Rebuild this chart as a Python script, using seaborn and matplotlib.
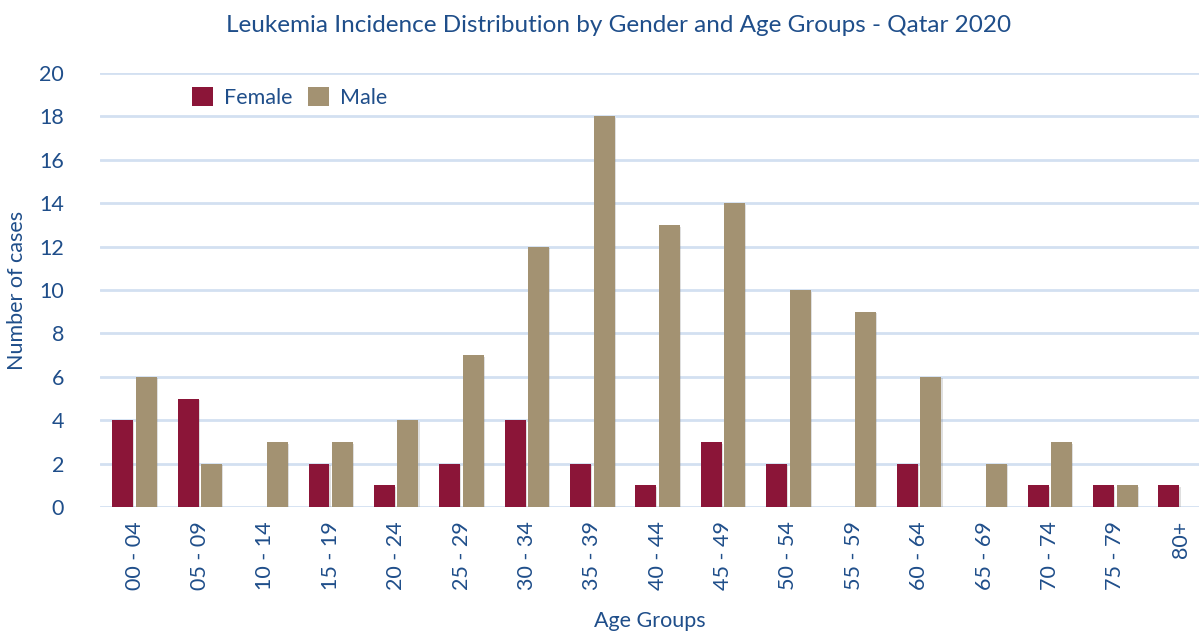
import matplotlib
matplotlib.use("Agg")
import matplotlib.pyplot as plt
import matplotlib.patheffects as pe
import seaborn as sns
import pandas as pd

age_groups = ["00 - 04", "05 - 09", "10 - 14", "15 - 19", "20 - 24", "25 - 29", "30 - 34",
              "35 - 39", "40 - 44", "45 - 49", "50 - 54", "55 - 59", "60 - 64", "65 - 69",
              "70 - 74", "75 - 79", "80+"]
female = [4, 5, 0, 2, 1, 2, 4, 2, 1, 3, 2, 0, 2, 0, 1, 1, 1]
male = [6, 2, 3, 3, 4, 7, 12, 18, 13, 14, 10, 9, 6, 2, 3, 1, 0]

df = pd.DataFrame({
    "Age": age_groups * 2,
    "Cases": female + male,
    "Gender": ["Female"] * len(female) + ["Male"] * len(male),
})

sns.set_theme(style="white")
plt.rcParams["font.family"] = ["Lato", "DejaVu Sans"]
text_color = "#1F4E8A"

fig = plt.figure(figsize=(11.99, 6.33), dpi=100)
ax = fig.add_axes([100 / 1199, 1 - 507 / 633, (1199 - 100) / 1199, (507 - 73) / 633])

sns.barplot(data=df, x="Age", y="Cases", hue="Gender", order=age_groups,
            hue_order=["Female", "Male"], palette={"Female": "#8B1538", "Male": "#A39272"},
            width=0.72, gap=0.11, ax=ax, saturation=1, zorder=3, linewidth=0)

for p in ax.patches:
    if p.get_height() > 0:
        p.set_path_effects([pe.SimplePatchShadow(offset=(0.8, -1.2), shadow_rgbFace="#808080",
                                                 alpha=0.25), pe.Normal()])

ax.set_ylim(0, 20)
ax.set_xlim(-0.53, 16.28)
ax.set_yticks(range(0, 21, 2))
ax.grid(axis="y", color="#D3E0F1", linewidth=2, zorder=0)
ax.grid(axis="x", visible=False)
for s in ax.spines.values():
    s.set_visible(False)
ax.tick_params(axis="y", length=0, pad=26, labelsize=15.5, labelcolor=text_color)
ax.tick_params(axis="x", length=0, pad=10, labelsize=15.5, labelcolor=text_color, rotation=90)
ax.set_xlabel("Age Groups", fontsize=15.5, color=text_color, labelpad=15)
ax.set_ylabel("Number of cases", fontsize=15.5, color=text_color)
ax.yaxis.set_label_coords(-0.066, 0.5)
fig.text(619 / 1199, 1 - 25 / 633,
         "Leukemia Incidence Distribution by Gender and Age Groups - Qatar 2020",
         fontsize=17.5, color=text_color, ha="center", va="center")

leg = ax.legend(loc="upper left", bbox_to_anchor=(0.066, 1.012), ncol=2, frameon=False,
                fontsize=15.5, handlelength=1.0, handleheight=1.0, handletextpad=0.5,
                columnspacing=0.7)
for t in leg.get_texts():
    t.set_color(text_color)

fig.savefig("out.png", dpi=100)
